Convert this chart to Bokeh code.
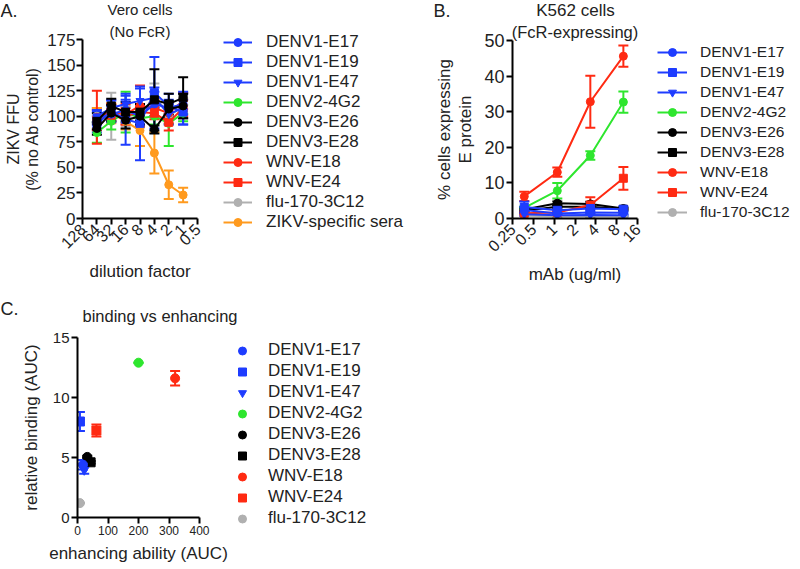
import math
from bokeh.plotting import figure
from bokeh.models import (ColumnDataSource, Range1d, FixedTicker, Whisker, TeeHead,
                          Legend, LegendItem, Label, Title)
from bokeh.layouts import row, column
from bokeh.embed import file_html
from bokeh.resources import INLINE

FONT = "Liberation Sans"
TXT = "#222222"

# ---------------- Panel A data: Vero cells (No FcR) ----------------
a_dilutions = [64, 32, 16, 8, 4, 2, 1]
a_ticks = [128, 64, 32, 16, 8, 4, 2, 1, 0.5]
a_tick_labels = ["128", "64", "32", "16", "8", "4", "2", "1", "0.5"]
a_names = ["DENV1-E17", "DENV1-E19", "DENV1-E47", "DENV2-4G2", "DENV3-E26",
           "DENV3-E28", "WNV-E18", "WNV-E24", "flu-170-3C12", "ZIKV-specific sera"]
a_denv1_e17 = [98, 102, 106, 100, 112, 108, 112]
a_denv1_e17_err = [6, 8, 10, 8, 12, 8, 10]
a_denv1_e19 = [92, 105, 97, 93, 123, 110, 104]
a_denv1_e19_err = [8, 10, 25, 36, 35, 12, 12]
a_denv1_e47 = [100, 108, 112, 115, 118, 102, 108]
a_denv1_e47_err = [6, 8, 8, 12, 10, 10, 16]
a_denv2_4g2 = [84, 95, 104, 98, 100, 93, 103]
a_denv2_4g2_err = [10, 8, 20, 8, 8, 22, 8]
a_denv3_e26 = [88, 103, 96, 100, 87, 107, 110]
a_denv3_e26_err = [6, 8, 8, 8, 4, 8, 12]
a_denv3_e28 = [95, 110, 104, 104, 116, 112, 118]
a_denv3_e28_err = [8, 7, 10, 8, 30, 10, 20]
a_wnv_e18 = [99, 104, 102, 110, 108, 103, 115]
a_wnv_e18_err = [26, 8, 10, 20, 8, 10, 8]
a_wnv_e24 = [96, 101, 100, 104, 103, 94, 108]
a_wnv_e24_err = [10, 6, 8, 6, 6, 8, 8]
a_flu = [100, 100, 100, 97, 122, 100, 110]
a_flu_err = [8, 23, 10, 8, 10, 8, 8]
a_zikv_sera = [98, 103, 95, 86, 64, 33, 23]
a_zikv_sera_err = [10, 10, 8, 15, 20, 14, 7]

# ---------------- Panel B data: K562 cells (FcR-expressing) ----------------
b_conc = [0.37, 1.11, 3.33, 10]
b_ticks = [0.25, 0.5, 1, 2, 4, 8, 16]
b_tick_labels = ["0.25", "0.5", "1", "2", "4", "8", "16"]
b_denv1_e17 = [2.4, 1.4, 1.7, 1.6]
b_denv1_e17_err = [0.8, 0.5, 0.6, 0.5]
b_denv1_e19 = [3.2, 2.3, 2.8, 2.6]
b_denv1_e19_err = [1.6, 0.8, 1.0, 0.8]
b_denv1_e47 = [1.2, 0.9, 1.0, 0.9]
b_denv1_e47_err = [0.4, 0.3, 0.4, 0.3]
b_denv2_4g2 = [3.0, 7.8, 17.7, 32.7]
b_denv2_4g2_err = [0.4, 2.2, 1.2, 3.0]
b_denv3_e26 = [2.5, 4.3, 4.1, 2.8]
b_denv3_e26_err = [0.3, 0.5, 0.6, 0.3]
b_denv3_e28 = [2.2, 3.3, 3.3, 2.6]
b_denv3_e28_err = [0.3, 0.4, 0.4, 0.3]
b_wnv_e18 = [6.2, 13.0, 32.8, 45.6]
b_wnv_e18_err = [1.3, 1.3, 7.3, 3.0]
b_wnv_e24 = [1.5, 1.7, 3.8, 11.3]
b_wnv_e24_err = [0.4, 0.4, 2.2, 3.2]
b_flu = [0.8, 0.6, 0.6, 0.6]
b_flu_err = [0.2, 0.2, 0.2, 0.2]

# ---------------- Panel C data: binding vs enhancing ----------------
c_names = ["DENV1-E17", "DENV1-E19", "DENV1-E47", "DENV2-4G2", "DENV3-E26",
           "DENV3-E28", "WNV-E18", "WNV-E24", "flu-170-3C12"]
c_enhancing = [18, 8, 22, 200, 32, 43, 320, 62, 8]
c_binding = [4.4, 8.0, 3.95, 12.9, 5.05, 4.6, 11.6, 7.25, 1.2]
c_binding_err = [0.4, 0.8, 0.3, 0.0, 0.1, 0.1, 0.6, 0.5, 0.0]

# ---------------- styles ----------------
BLUE = "#1e3cff"
GREEN = "#2ee62e"
BLACK = "#000000"
RED = "#ff2a12"
GRAY = "#b0b0b0"
ORANGE = "#ff9a1e"
style = {
    "DENV1-E17": (BLUE, "circle"),
    "DENV1-E19": (BLUE, "square"),
    "DENV1-E47": (BLUE, "inverted_triangle"),
    "DENV2-4G2": (GREEN, "circle"),
    "DENV3-E26": (BLACK, "circle"),
    "DENV3-E28": (BLACK, "square"),
    "WNV-E18": (RED, "circle"),
    "WNV-E24": (RED, "square"),
    "flu-170-3C12": (GRAY, "circle"),
    "ZIKV-specific sera": (ORANGE, "circle"),
}


def make_fig(width, height, xr, yr, xtype, left, right, top, bottom):
    p = figure(width=width, height=height, x_range=xr, y_range=yr, x_axis_type=xtype,
               output_backend="svg", toolbar_location=None, title=None,
               min_border_left=left, min_border_right=right,
               min_border_top=top, min_border_bottom=bottom)
    p.outline_line_color = None
    p.grid.visible = False
    p.background_fill_color = "white"
    p.border_fill_color = "white"
    for ax in (p.xaxis[0], p.yaxis[0]):
        ax.axis_line_width = 2
        ax.axis_line_color = "black"
        ax.major_tick_line_width = 2
        ax.major_tick_out = 6
        ax.major_tick_in = 0
        ax.minor_tick_line_color = None
        ax.major_label_text_font = FONT
        ax.major_label_text_font_size = "16px"
        ax.major_label_text_color = TXT
        ax.major_label_standoff = 2
        ax.axis_label_text_font = FONT
        ax.axis_label_text_font_style = "normal"
        ax.axis_label_text_font_size = "17px"
        ax.axis_label_text_color = TXT
    return p


def blank_fig(width, height):
    # axis-less figure whose frame fills the whole canvas (for headers / legends)
    p = figure(width=width, height=height, x_range=Range1d(0, 1), y_range=Range1d(0, 1),
               output_backend="svg", toolbar_location=None, title=None,
               x_axis_location=None, y_axis_location=None,
               min_border_left=0, min_border_right=0, min_border_top=0, min_border_bottom=0)
    p.outline_line_color = None
    p.grid.visible = False
    p.background_fill_color = "white"
    p.border_fill_color = "white"
    return p


def add_text(p, text, x, y, size, align="left"):
    p.add_layout(Label(x=x, y=y, x_units="screen", y_units="screen", text=text,
                       text_font=FONT, text_font_size=size, text_color=TXT,
                       text_baseline="middle", text_align=align))


def add_title(p, text, size, standoff):
    p.add_layout(Title(text=text, align="center", text_font=FONT,
                       text_font_size=size, text_font_style="normal",
                       text_color=TXT, standoff=standoff), "above")


def add_series(p, x, y, err, color, marker, line=True, size=8, head=10):
    lo = [v - e for v, e in zip(y, err)]
    hi = [v + e for v, e in zip(y, err)]
    src = ColumnDataSource(dict(x=x, y=y, lo=lo, hi=hi))
    w = Whisker(source=src, base="x", upper="hi", lower="lo",
                line_color=color, line_width=2,
                upper_head=TeeHead(size=head, line_color=color, line_width=2),
                lower_head=TeeHead(size=head, line_color=color, line_width=2))
    p.add_layout(w)
    if line:
        p.line("x", "y", source=src, line_color=color, line_width=2)
    p.scatter("x", "y", source=src, marker=marker, size=size,
              fill_color=color, line_color=color)


def legend_fig(width, height, names, loc, font_size, lh, gw, standoff, with_line=True):
    # legend keys: style swatches of each series (no visible data: NaN placeholder)
    p = blank_fig(width, height)
    items = []
    for n in names:
        c, m = style[n]
        key_src = ColumnDataSource(dict(x=[float("nan")], y=[float("nan")]))
        rs = []
        if with_line:
            rs.append(p.line("x", "y", source=key_src, line_color=c, line_width=2))
        rs.append(p.scatter("x", "y", source=key_src, marker=m, fill_color=c, line_color=c))
        items.append(LegendItem(label=n, renderers=rs))
    p.add_layout(Legend(items=items, location=loc, orientation="vertical",
                        label_text_font=FONT, label_text_font_size=font_size,
                        label_text_color=TXT,
                        label_height=lh, glyph_height=lh, glyph_width=gw,
                        label_standoff=standoff, spacing=0, padding=0, margin=0,
                        border_line_color=None, background_fill_alpha=0))
    return p


PAGE_W = 800
HDR1, ROW1_H = 20, 270
HDR2, ROW2_H = 40, 239
TOP1 = 37 - HDR1  # frame top of row-1 plots sits at y=37 on the page

# ================= Panel A =================
A_W = 205
pA = make_fig(A_W, ROW1_H, Range1d(128, 0.5), Range1d(0, 175), "log",
              82, 8, TOP1, ROW1_H - TOP1 - 181)
pA.xaxis[0].ticker = FixedTicker(ticks=a_ticks)
pA.xaxis[0].major_label_overrides = dict(zip(a_ticks, a_tick_labels))
pA.xaxis[0].major_label_orientation = math.pi / 4
pA.xaxis[0].axis_label = "dilution factor"
pA.xaxis[0].axis_label_standoff = 5
pA.yaxis[0].ticker = FixedTicker(ticks=[0, 25, 50, 75, 100, 125, 150, 175])
pA.yaxis[0].major_label_text_font_size = "17px"
pA.yaxis[0].major_label_standoff = 1
pA.yaxis[0].axis_label = "ZIKV FFU\n(% no Ab control)"
pA.yaxis[0].axis_label_text_font_size = "16px"
pA.yaxis[0].axis_label_text_line_height = 1.1
pA.yaxis[0].axis_label_standoff = 3
add_title(pA, "(No FcR)", "15px", 0)

a_data = {
    "DENV1-E17": (a_denv1_e17, a_denv1_e17_err),
    "DENV1-E19": (a_denv1_e19, a_denv1_e19_err),
    "DENV1-E47": (a_denv1_e47, a_denv1_e47_err),
    "DENV2-4G2": (a_denv2_4g2, a_denv2_4g2_err),
    "DENV3-E26": (a_denv3_e26, a_denv3_e26_err),
    "DENV3-E28": (a_denv3_e28, a_denv3_e28_err),
    "WNV-E18": (a_wnv_e18, a_wnv_e18_err),
    "WNV-E24": (a_wnv_e24, a_wnv_e24_err),
    "flu-170-3C12": (a_flu, a_flu_err),
    "ZIKV-specific sera": (a_zikv_sera, a_zikv_sera_err),
}
a_draw_order = ["flu-170-3C12", "ZIKV-specific sera", "DENV2-4G2", "WNV-E24", "WNV-E18",
                "DENV1-E47", "DENV1-E17", "DENV1-E19", "DENV3-E26", "DENV3-E28"]
for n in a_draw_order:
    c, m = style[n]
    add_series(pA, a_dilutions, a_data[n][0], a_data[n][1], c, m)

legA = legend_fig(412 - A_W, ROW1_H, a_names, (18, 58), "17px", 20, 29, 14)

# ================= Panel B =================
B_W = 233
pB = make_fig(B_W, ROW1_H, Range1d(0.25, 16), Range1d(0, 50), "log",
              100, 8, TOP1, ROW1_H - TOP1 - 181)
pB.xaxis[0].ticker = FixedTicker(ticks=b_ticks)
pB.xaxis[0].major_label_overrides = dict(zip(b_ticks, b_tick_labels))
pB.xaxis[0].major_label_orientation = math.pi / 4
pB.xaxis[0].axis_label = "mAb (ug/ml)"
pB.xaxis[0].axis_label_standoff = 5
pB.yaxis[0].ticker = FixedTicker(ticks=[0, 10, 20, 30, 40, 50])
pB.yaxis[0].major_label_text_font_size = "18px"
pB.yaxis[0].axis_label = "% cells expressing\nE protein"
pB.yaxis[0].axis_label_text_line_height = 1.15
pB.yaxis[0].axis_label_standoff = 6
add_title(pB, "(FcR-expressing)", "16.5px", 0)

b_data = {
    "DENV1-E17": (b_denv1_e17, b_denv1_e17_err),
    "DENV1-E19": (b_denv1_e19, b_denv1_e19_err),
    "DENV1-E47": (b_denv1_e47, b_denv1_e47_err),
    "DENV2-4G2": (b_denv2_4g2, b_denv2_4g2_err),
    "DENV3-E26": (b_denv3_e26, b_denv3_e26_err),
    "DENV3-E28": (b_denv3_e28, b_denv3_e28_err),
    "WNV-E18": (b_wnv_e18, b_wnv_e18_err),
    "WNV-E24": (b_wnv_e24, b_wnv_e24_err),
    "flu-170-3C12": (b_flu, b_flu_err),
}
b_draw_order = ["flu-170-3C12", "DENV3-E28", "DENV3-E26", "WNV-E24", "DENV2-4G2",
                "WNV-E18", "DENV1-E47", "DENV1-E17", "DENV1-E19"]
for n in b_draw_order:
    c, m = style[n]
    add_series(pB, b_conc, b_data[n][0], b_data[n][1], c, m)

legB = legend_fig(PAGE_W - 412 - B_W, ROW1_H, c_names, (12, 68), "15.5px", 20, 30, 13)

# header line of row 1: panel letters and first title lines
h1 = blank_fig(PAGE_W, HDR1)
add_text(h1, "A.", 0, HDR1 - 10.4, "18px")
add_text(h1, "Vero cells", 139.5, HDR1 - 9, "15px", align="center")
add_text(h1, "B.", 433, HDR1 - 10.4, "18px")
add_text(h1, "K562 cells", 575, HDR1 - 9.8, "17px", align="center")

# ================= Panel C =================
C_W = 232
pC = make_fig(C_W, ROW2_H, Range1d(0, 400), Range1d(0, 15), "linear",
              77, C_W - 77 - 122, 7, ROW2_H - 7 - 180)
pC.xaxis[0].ticker = FixedTicker(ticks=[0, 100, 200, 300, 400])
pC.xaxis[0].major_label_text_font_size = "12px"
pC.xaxis[0].axis_label = "enhancing ability (AUC)"
pC.xaxis[0].axis_label_standoff = 6
pC.yaxis[0].ticker = FixedTicker(ticks=[0, 5, 10, 15])
pC.yaxis[0].major_label_text_font_size = "15px"
pC.yaxis[0].axis_label = "relative binding (AUC)"
pC.yaxis[0].axis_label_standoff = 9
for i in [8, 4, 5, 3, 7, 6, 2, 0, 1]:
    n = c_names[i]
    c, m = style[n]
    add_series(pC, [c_enhancing[i]], [c_binding[i]], [c_binding_err[i]], c, m,
               line=False, size=9, head=10)

legC = legend_fig(412 - C_W, ROW2_H, c_names, (0, 40.5), "17px", 21, 20, 16,
                  with_line=False)

h2 = blank_fig(PAGE_W, HDR2)
add_text(h2, "C.", 0, 21.5, "18px")
add_text(h2, "binding vs enhancing", 82, 15, "16.5px")

# each figure wrapped in its own column so that the row does not align their frames
layout = column(
    h1,
    row(column(pA), column(legA), column(pB), column(legB)),
    h2,
    row(column(pC), column(legC)),
)
open("out.html", "w").write(file_html(layout, INLINE))
